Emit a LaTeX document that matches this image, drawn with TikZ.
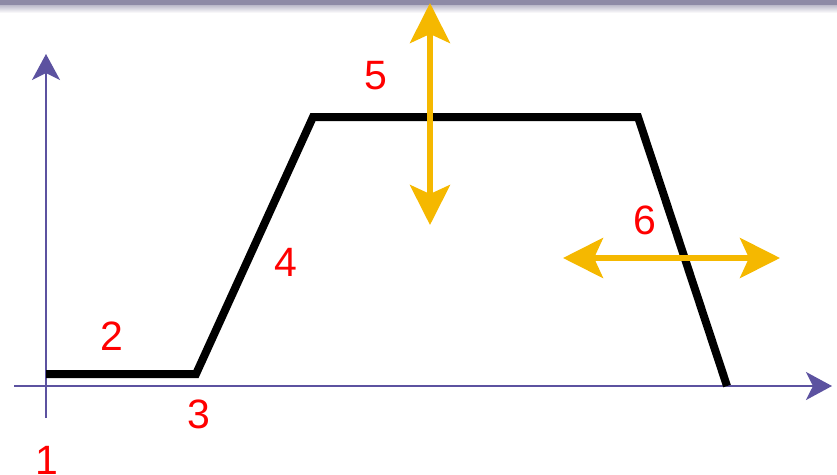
\documentclass[tikz,border=0pt]{standalone}
\usepackage{fontspec}
\setmainfont{Liberation Sans}
\usetikzlibrary{arrows.meta, positioning, calc}

\definecolor{axisblue}{RGB}{92,82,160}
\definecolor{bargray}{RGB}{142,138,166}
\definecolor{moveyellow}{RGB}{245,184,0}

\tikzset{
  axisline/.style={draw=axisblue, line width=2pt, -{Stealth[length=26pt, width=28pt, inset=7pt]}},
  profile/.style={draw=black, line width=8pt, line join=miter},
  movearrow/.style={draw=moveyellow, line width=5.5pt, {Stealth[length=40pt, width=40pt, inset=9pt]}-{Stealth[length=40pt, width=40pt, inset=9pt]}},
  steplabel/.style={text=red, font=\fontsize{41}{41}\selectfont, inner sep=0pt}
}

\begin{document}
\begin{tikzpicture}[x=1pt, y=-1pt]
\useasboundingbox (0,0) rectangle (837,474);
% top bar
\shade[top color=bargray!60, bottom color=white] (0,5) rectangle (837,13);
\fill[bargray] (0,0) rectangle (837,5);

% axes
\coordinate (origin) at (46,386);
\coordinate (ybot) at (46,418);
\coordinate (ytop) at (46,54);
\coordinate (xleft) at (14,386);
\coordinate (xright) at (832,386);
\draw[axisline] (ybot) -- (ytop);
\draw[axisline] (xleft) -- (xright);

% profile
\coordinate (p1) at (46,374);
\coordinate (p2) at (196,374);
\coordinate (p3) at (313,117);
\coordinate (p4) at (638,117);
\coordinate (p5) at (727,386);
\draw[profile] (p1) -- (p2) -- (p3) -- (p4) -- (p5);

% movement arrows
\coordinate (vtop) at (430,3);
\coordinate (vbot) at (430,225);
\coordinate (hleft) at (563,258);
\coordinate (hright) at (780,258);
\draw[movearrow] (vtop) -- (vbot);
\draw[movearrow] (hleft) -- (hright);

% labels
\node[steplabel] (lab1) at (47,460) {1};
\node[steplabel] (lab2) at (112,336) {2};
\node[steplabel] (lab3) at (199,414) {3};
\node[steplabel] (lab4) at (286,262) {4};
\node[steplabel] (lab5) at (376,76) {5};
\node[steplabel] (lab6) at (645,220) {6};
\end{tikzpicture}
\end{document}
